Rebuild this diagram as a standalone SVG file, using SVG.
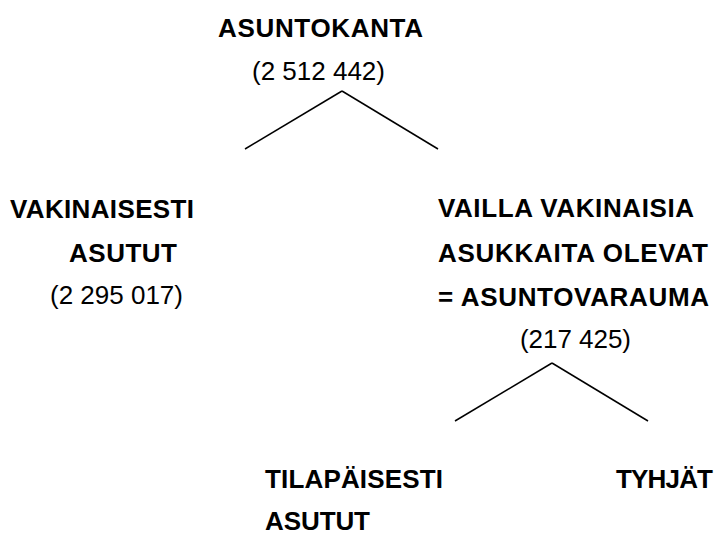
<svg xmlns="http://www.w3.org/2000/svg" width="717" height="535" viewBox="0 0 717 535">
<style>
text{font-family:"Liberation Sans",Arial,sans-serif;font-size:26px;fill:#000}
.b{font-weight:bold}
.c line{stroke:#000;stroke-width:1.5}
</style>
<rect width="717" height="535" fill="#fff"/>
<g id="asuntokanta">
<text class="b" x="218" y="37" textLength="205" lengthAdjust="spacing">ASUNTOKANTA</text>
<text x="252" y="80" textLength="133" lengthAdjust="spacing">(2 512 442)</text>
</g>
<g id="vakinaisesti">
<text class="b" x="10" y="218" textLength="184" lengthAdjust="spacing">VAKINAISESTI</text>
<text class="b" x="69" y="262" textLength="108" lengthAdjust="spacing">ASUTUT</text>
<text x="50" y="304" textLength="133" lengthAdjust="spacing">(2 295 017)</text>
</g>
<g id="vailla">
<text class="b" x="438" y="217" textLength="256" lengthAdjust="spacing">VAILLA VAKINAISIA</text>
<text class="b" x="438" y="262" textLength="270" lengthAdjust="spacing">ASUKKAITA OLEVAT</text>
<text class="b" x="438" y="306" textLength="271" lengthAdjust="spacing">= ASUNTOVARAUMA</text>
<text x="520" y="348" textLength="111" lengthAdjust="spacing">(217 425)</text>
</g>
<g id="tilapaisesti">
<text class="b" x="265" y="488" textLength="178" lengthAdjust="spacing">TILAPÄISESTI</text>
<text class="b" x="265" y="530" textLength="105" lengthAdjust="spacing">ASUTUT</text>
</g>
<g id="tyhjat">
<text class="b" x="616" y="488" textLength="97" lengthAdjust="spacing">TYHJÄT</text>
</g>
<g class="c" id="connectors">
<line x1="342" y1="91" x2="245" y2="149"/>
<line x1="342" y1="91" x2="438" y2="149"/>
<line x1="552" y1="363" x2="455" y2="421"/>
<line x1="552" y1="363" x2="648" y2="421"/>
</g>
</svg>
